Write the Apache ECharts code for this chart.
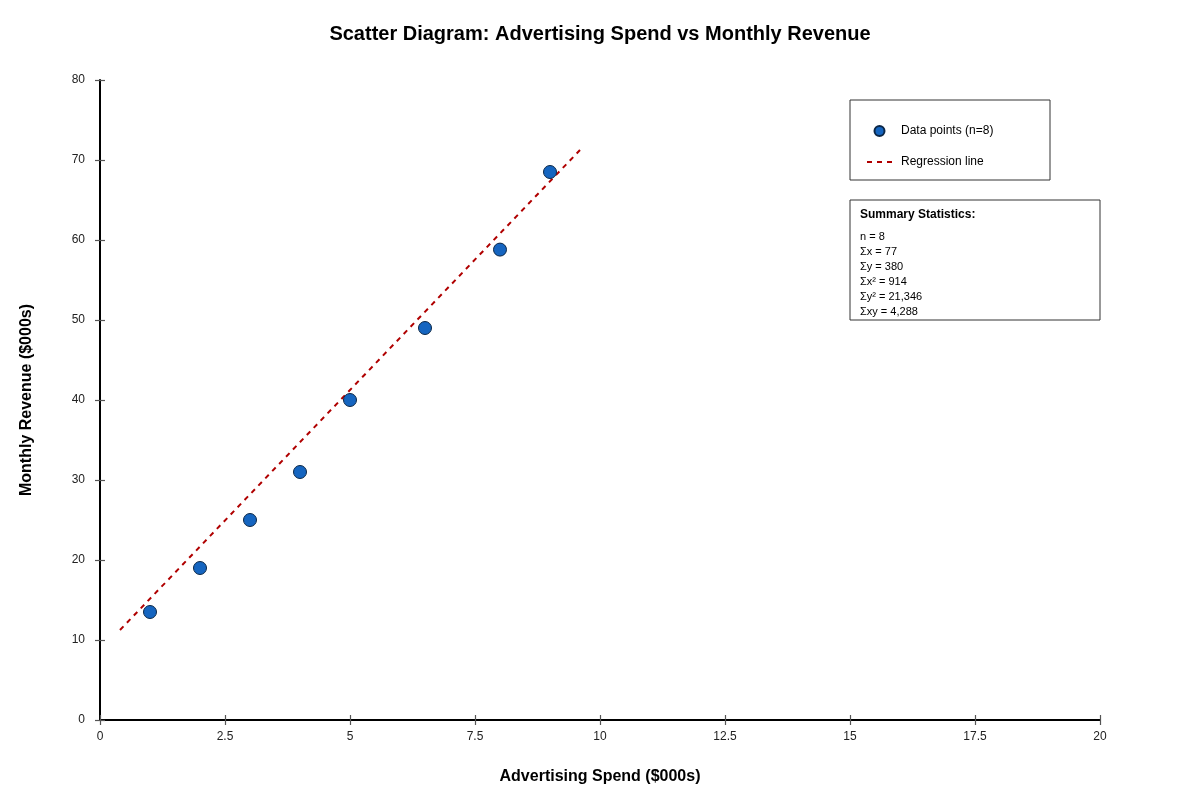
<!DOCTYPE html>
<html>
<head>
<meta charset="utf-8">
<title>Scatter Diagram</title>
<script src="https://cdn.jsdelivr.net/npm/echarts@6/dist/echarts.min.js"></script>
<style>
  html, body { margin: 0; padding: 0; background: #fff; }
  #chart { width: 1200px; height: 800px; }
</style>
</head>
<body>
<div id="chart"></div>
<script>
// data
var adSpend = [1, 2, 3, 4, 5, 6.5, 8, 9]
var revenue = [13.5, 19, 25, 31, 40, 49, 58.8, 68.5]
// regression line end points
var regX = [0.4, 9.6]
var regY = [11.25, 71.25]
var summaryLines = ['n = 8', 'Σx = 77', 'Σy = 380', 'Σx² = 914', 'Σy² = 21,346', 'Σxy = 4,288']

var font = 'Liberation Sans, Arial, sans-serif'
var chart = echarts.init(document.getElementById('chart'))

var points = adSpend.map(function (x, i) { return [x, revenue[i]] })
var regLine = regX.map(function (x, i) { return [x, regY[i]] })

// inner half of ticks that cross the axis line
function innerAxis(base) {
  return Object.assign({
    axisLine: { show: false },
    axisLabel: { show: false },
    splitLine: { show: false },
    axisTick: { inside: true, length: 5, lineStyle: { color: '#555', width: 1.2 } }
  }, base)
}

var statsText = [{
  type: 'text',
  left: 860,
  top: 209,
  style: { text: 'Summary Statistics:', font: 'bold 12px ' + font, fill: '#000' }
}]
summaryLines.forEach(function (s, i) {
  statsText.push({
    type: 'text',
    left: 860,
    top: 231 + i * 15,
    style: { text: s, font: '11px ' + font, fill: '#000' }
  })
})

chart.setOption({
  backgroundColor: '#fff',
  animation: false,
  title: {
    text: 'Scatter Diagram: Advertising Spend vs Monthly Revenue',
    left: 'center',
    top: 19,
    textStyle: { fontFamily: font, fontSize: 20, fontWeight: 'bold', color: '#000' }
  },
  grid: { left: 100, right: 100, top: 80, bottom: 80 },
  legend: {
    orient: 'vertical',
    left: 866,
    top: 125,
    padding: 0,
    itemGap: 19,
    itemWidth: 25,
    itemHeight: 10,
    textStyle: { fontFamily: font, fontSize: 12, color: '#000', padding: [0, 0, 0, 4] },
    data: [
      { name: 'Data points (n=8)', icon: 'circle' },
      { name: 'Regression line', itemStyle: { opacity: 0 } }
    ]
  },
  graphic: [{
    type: 'rect',
    shape: { x: 850, y: 100, width: 200, height: 80 },
    style: { fill: '#fff', stroke: '#333', lineWidth: 1 },
    z: -1
  }, {
    type: 'rect',
    shape: { x: 850, y: 200, width: 250, height: 120 },
    style: { fill: '#fff', stroke: '#333', lineWidth: 1 },
    z: -1
  }].concat(statsText),
  xAxis: [{
    type: 'value',
    min: 0,
    max: 20,
    interval: 2.5,
    name: 'Advertising Spend ($000s)',
    nameLocation: 'middle',
    nameGap: 49,
    nameTextStyle: { fontFamily: font, fontSize: 16, fontWeight: 'bold', color: '#000' },
    axisLine: { lineStyle: { color: '#000', width: 2 } },
    axisTick: { length: 5, lineStyle: { color: '#555', width: 1.2 } },
    axisLabel: { fontFamily: font, fontSize: 12, color: '#222', margin: 11 },
    splitLine: { show: false }
  }, innerAxis({ type: 'value', min: 0, max: 20, interval: 2.5, position: 'bottom' })],
  yAxis: [{
    type: 'value',
    min: 0,
    max: 80,
    interval: 10,
    name: 'Monthly Revenue ($000s)',
    nameLocation: 'middle',
    nameGap: 65,
    nameTextStyle: { fontFamily: font, fontSize: 16, fontWeight: 'bold', color: '#000' },
    axisLine: { show: true, lineStyle: { color: '#000', width: 2 } },
    axisTick: { show: true, length: 5, lineStyle: { color: '#555', width: 1.2 } },
    axisLabel: { fontFamily: font, fontSize: 12, color: '#222', margin: 15, padding: [2, 0, 0, 0] },
    splitLine: { show: false }
  }, innerAxis({ type: 'value', min: 0, max: 80, interval: 10, position: 'left' })],
  series: [{
    name: 'Data points (n=8)',
    type: 'scatter',
    symbolSize: 13,
    itemStyle: { color: '#1565c0', borderColor: '#0b2747', borderWidth: 1, opacity: 1 },
    data: points,
    z: 3
  }, {
    name: 'Regression line',
    type: 'line',
    symbol: 'none',
    lineStyle: { color: '#b00000', width: 2, type: [5, 5] },
    itemStyle: { color: '#b00000' },
    data: regLine,
    z: 2
  }]
})
</script>
</body>
</html>
